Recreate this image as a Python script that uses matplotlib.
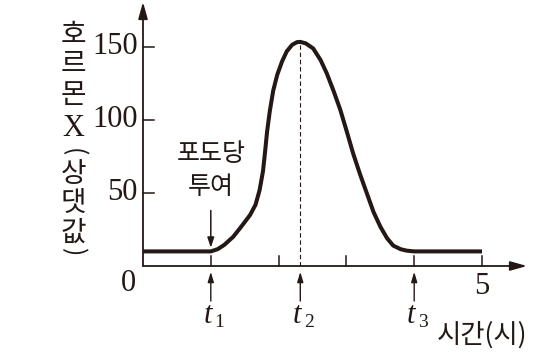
import matplotlib
matplotlib.use("Agg")
import matplotlib.pyplot as plt

# data
time_h = [0.0, 0.5, 1.0, 1.1, 1.2, 1.33, 1.45, 1.58, 1.66, 1.72, 1.77, 1.80, 1.83, 1.87, 1.92, 1.98, 2.05, 2.12, 2.20, 2.27, 2.32,
          2.40, 2.51, 2.62, 2.71, 2.81, 2.91, 3.00, 3.10, 3.20, 3.30, 3.40, 3.50, 3.60, 3.69, 3.80, 3.89, 4.0, 4.5, 5.0]
hormone = [10, 10, 10, 11.5, 14.5, 20, 27, 35, 42, 52, 65, 78, 92, 106, 120, 131, 140, 147, 151.5, 153.3, 153.5,
           152.5, 149, 141, 132, 120, 107, 93, 77, 63, 50, 37, 27, 19, 14, 11.5, 10.5, 10, 10, 10]
x_ticks = [1, 2, 3, 4, 5]
y_ticks = [50, 100, 150]
y_tick_labels = ["50", "100", "150"]
events = [("1", 1.0), ("2", 2.32), ("3", 4.0)]
t_peak = 2.32
v_peak = 153.5

ink = "#231815"
W, H = 553, 356
fig = plt.figure(figsize=(W / 100, H / 100), dpi=100)
x0px, y0px = 143, 266
xend, ytop = 527, 2
ax = fig.add_axes([x0px / W, (H - y0px) / H, (xend - x0px) / W, (y0px - ytop) / H])
xmax = (xend - x0px) / 67.8
ymax = (y0px - ytop) / 1.46
ax.set_xlim(0, xmax)
ax.set_ylim(0, ymax)
ax.axis("off")

kr = ["Noto Sans CJK KR", "DejaVu Sans"]
serif = "Liberation Serif"

# axes with arrows
ax.annotate("", xy=(xmax, 0), xytext=(0, 0),
            arrowprops=dict(arrowstyle="-|>,head_length=1.0,head_width=0.28", color=ink, lw=1.3, shrinkA=0, shrinkB=0),
            annotation_clip=False)
ax.annotate("", xy=(0, ymax), xytext=(0, 0),
            arrowprops=dict(arrowstyle="-|>,head_length=1.0,head_width=0.28", color=ink, lw=1.3, shrinkA=0, shrinkB=0),
            annotation_clip=False)

# ticks
for xv in x_ticks:
    ax.plot([xv, xv], [0, 7], color=ink, lw=1.1, clip_on=False)
for yv, lab in zip(y_ticks, y_tick_labels):
    ax.plot([0, 0.16], [yv, yv], color=ink, lw=1.1, clip_on=False)
    ax.text(-0.08, yv, lab, ha="right", va="center", fontsize=22, family=serif, color=ink)
ax.text(-0.22, -12, "0", ha="center", va="center", fontsize=22, family=serif, color=ink)
ax.text(5.0, -14, "5", ha="center", va="center", fontsize=22, family=serif, color=ink)

# curve
ax.plot(time_h, hormone, color=ink, lw=2.9, solid_capstyle="butt", solid_joinstyle="round")
ax.plot([t_peak, t_peak], [0, v_peak], color=ink, lw=0.8, ls=(0, (4, 2.5)))

# glucose annotation
ax.text(1.0, 77, "포도당", ha="center", va="center", fontsize=18, family=kr, color=ink)
ax.text(1.0, 54, "투여", ha="center", va="center", fontsize=18, family=kr, color=ink)
ax.annotate("", xy=(1.0, 12.5), xytext=(1.0, 38),
            arrowprops=dict(arrowstyle="-|>,head_length=0.6,head_width=0.2", color=ink, lw=1.1, shrinkA=0, shrinkB=0))

# event arrows below axis
for sub, xv in events:
    ax.annotate("", xy=(xv, -4), xytext=(xv, -24),
                arrowprops=dict(arrowstyle="-|>,head_length=0.6,head_width=0.18", color=ink, lw=1.0, shrinkA=0, shrinkB=0),
                annotation_clip=False)
    ax.text(xv - 0.05, -34, "t", ha="center", va="center", fontsize=22, family=serif, style="italic", color=ink)
    ax.text(xv + 0.13, -39, sub, ha="center", va="center", fontsize=14, family=serif, color=ink)

ax.text(5.0, -47, "시간(시)", ha="center", va="center", fontsize=19, family=kr, color=ink)

# vertical y label
ylab = [("호", 35), ("르", 64), ("몬", 95), ("X", 128), ("(", 152), ("상", 174), ("댓", 203), ("값", 233), (")", 252)]
for ch, ypx in ylab:
    if ch == "X":
        fig.text(73 / W, 1 - ypx / H, ch, ha="center", va="center", fontsize=22, family=serif, color=ink)
    elif ch in "()":
        fig.text(73 / W, 1 - ypx / H, ch, ha="center", va="center", fontsize=18, family=kr, color=ink, rotation=-90)
    else:
        fig.text(73 / W, 1 - ypx / H, ch, ha="center", va="center", fontsize=20, family=kr, color=ink)

fig.savefig("out.png", dpi=100)
